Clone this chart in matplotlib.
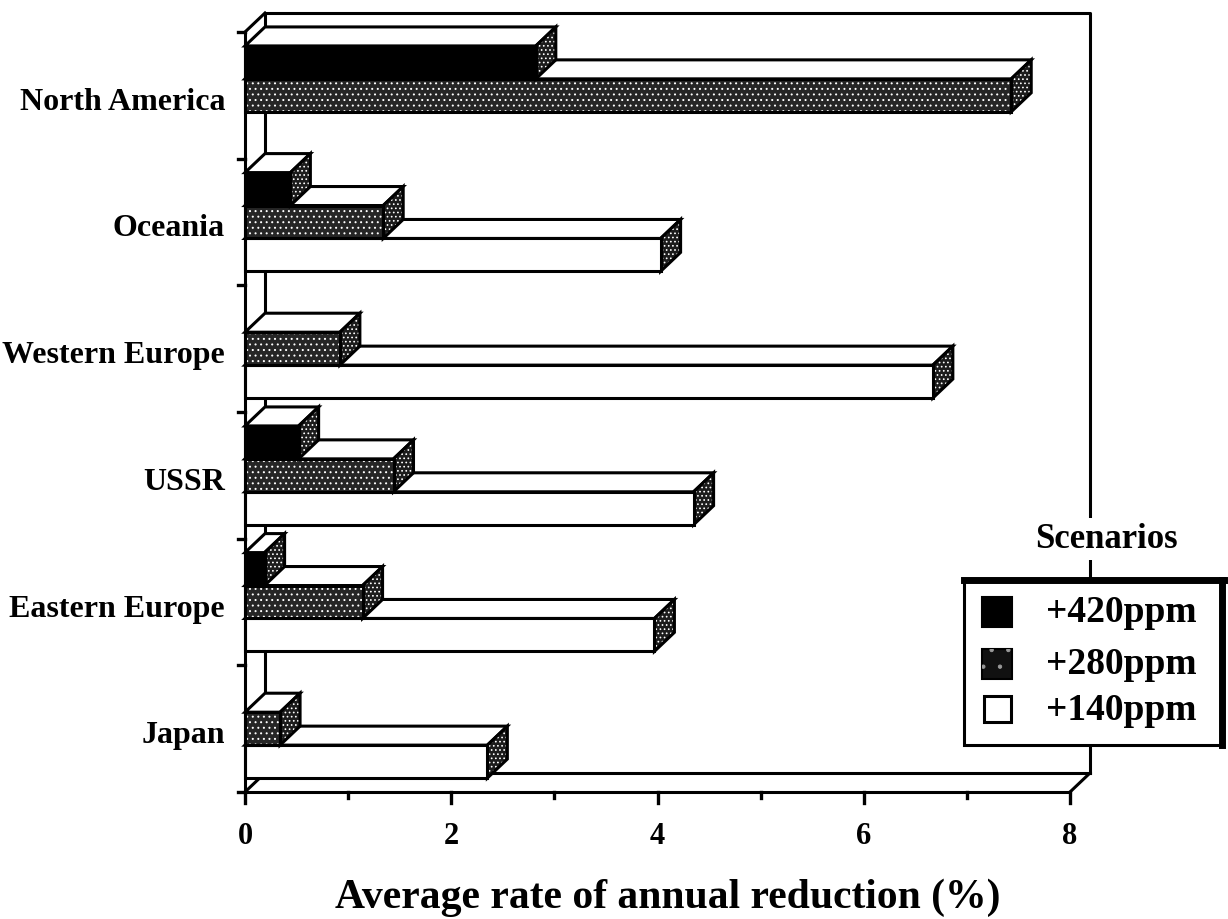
import matplotlib
matplotlib.use('Agg')
import matplotlib.pyplot as plt
from matplotlib.patches import Polygon, Rectangle

categories = ["North America", "Oceania", "Western Europe", "USSR", "Eastern Europe", "Japan"]
scenarios = ["+420ppm", "+280ppm", "+140ppm"]
ppm420 = [2.82, 0.44, 0.0, 0.52, 0.19, 0.0]
ppm280 = [7.43, 1.34, 0.92, 1.44, 1.14, 0.34]
ppm140 = [0.0, 4.03, 6.67, 4.35, 3.97, 2.35]
xticks = [0, 2, 4, 6, 8]
xlabel = "Average rate of annual reduction (%)"
legend_title = "Scenarios"

plt.rcParams['hatch.linewidth'] = 0.7
SERIF = ['Liberation Serif', 'DejaVu Serif']

W, H = 1228, 919
fig = plt.figure(figsize=(W / 100, H / 100), dpi=100)
x0px, x8px, ytop, ybot = 245, 1070, 32, 792
ax = fig.add_axes([x0px / W, 1 - ybot / H, (x8px - x0px) / W, (ybot - ytop) / H])
ax.set_xlim(0, 8)
ax.set_ylim(0, 6)
ax.axis('off')
ux = (x8px - x0px) / 8
uy = (ybot - ytop) / 6
DX = 20 / ux
DY = 19 / uy
LW = 2.2
n = len(categories)


def line(xs, ys, lw=LW, z=1):
    ax.plot(xs, ys, color='black', lw=lw, solid_capstyle='projecting', clip_on=False, zorder=z)


def stipple(pts, z, base='#1c1c1c', hatch='....'):
    ax.add_patch(Polygon(pts, closed=True, fc=base, ec='none', lw=0, clip_on=False, zorder=z))
    ax.add_patch(Polygon(pts, closed=True, fc='none', ec='white', lw=0, hatch=hatch, clip_on=False, zorder=z))
    ax.add_patch(Polygon(pts, closed=True, fc='none', ec='black', lw=LW, joinstyle='miter', clip_on=False, zorder=z))


def poly(pts, fc, z):
    ax.add_patch(Polygon(pts, closed=True, fc=fc, ec='black', lw=LW, joinstyle='miter', clip_on=False, zorder=z))


# back wall and floor
line([DX, DX, 8 + DX, 8 + DX], [DY, 6 + DY, 6 + DY, DY], z=1)
line([DX, 8 + DX], [DY, DY], z=1)
line([0, 8], [0, 0], z=1)
line([8, 8 + DX], [0, DY], z=1)
line([0, DX], [0, DY], z=1)
line([0, 0], [0, 6], z=10)
line([0, DX], [6, 6 + DY], z=1)

# axis ticks
for k in range(n + 1):
    line([-0.07, 0], [k, k], lw=2.4, z=10)
for k in range(9):
    ln = 11 / uy if k % 2 == 0 else 6 / uy
    line([k, k], [0, -ln], lw=2.4, z=10)
for t in xticks:
    ax.text(t, -45 / uy, str(t), ha='center', va='center', fontsize=22,
            fontweight='bold', family=SERIF, clip_on=False)

ax.text(4.1, -116 / uy, xlabel, ha='center', va='baseline', fontsize=30,
        fontweight='bold', family=SERIF, clip_on=False)


def draw_bar(v, y0, h, kind, z):
    if v <= 0:
        return
    top = y0 + h
    poly([(0, top), (v, top), (v + DX, top + DY), (DX, top + DY)], 'white', z)
    stipple([(v, y0), (v, top), (v + DX, top + DY), (v + DX, y0 + DY)], z)
    front = [(0, y0), (v, y0), (v, top), (0, top)]
    if kind == 'black':
        poly(front, 'black', z)
    elif kind == 'stipple':
        stipple(front, z, base='#262626', hatch='...')
    else:
        poly(front, 'white', z)


h = 0.26
for i, cat in enumerate(categories):
    c = n - 0.5 - i
    draw_bar(ppm140[i], c - 3 * h / 2, h, 'white', 3)
    draw_bar(ppm280[i], c - h / 2, h, 'stipple', 4)
    draw_bar(ppm420[i], c + h / 2, h, 'black', 5)
    ax.text(-20 / ux, c - 7 / uy, cat, ha='right', va='center', fontsize=23,
            fontweight='bold', family=SERIF, clip_on=False)

# legend (figure pixel coordinates)
lax = fig.add_axes([0, 0, 1, 1], facecolor='none')
lax.set_xlim(0, W)
lax.set_ylim(H, 0)
lax.axis('off')
lax.add_patch(Rectangle((964, 580), 258, 165, fc='white', ec='black', lw=2.2, zorder=2))
lax.plot([964, 1224], [580, 580], color='black', lw=5, solid_capstyle='projecting', zorder=3)
lax.plot([1222, 1222], [580, 745], color='black', lw=5, solid_capstyle='projecting', zorder=3)
lax.text(1106, 539, legend_title, ha='center', va='center',
         fontsize=25, fontweight='bold', family=SERIF,
         bbox=dict(fc='white', ec='none', pad=3), zorder=3)
sq_y = [612, 664, 709]
kinds = ['black', 'stipple', 'white']
for yy, lab, kind in zip(sq_y, scenarios, kinds):
    pts = [(982, yy - 15), (1012, yy - 15), (1012, yy + 15), (982, yy + 15)]
    if kind == 'black':
        lax.add_patch(Polygon(pts, closed=True, fc='black', ec='black', lw=1.5, zorder=4))
    elif kind == 'stipple':
        lax.add_patch(Polygon(pts, closed=True, fc='#111111', ec='black', lw=1.5, zorder=4))
        lax.add_patch(Polygon(pts, closed=True, fc='none', ec='#999999', lw=0, hatch='.', zorder=4))
    else:
        lax.add_patch(Polygon([(984, yy - 13), (1011, yy - 13), (1011, yy + 13), (984, yy + 13)],
                              closed=True, fc='white', ec='black', lw=2.2, zorder=4))
    lax.text(1046, yy + 1, lab, ha='left', va='center', fontsize=27,
             fontweight='bold', family=SERIF, zorder=4)

fig.savefig('out.png', dpi=100, facecolor='white')
